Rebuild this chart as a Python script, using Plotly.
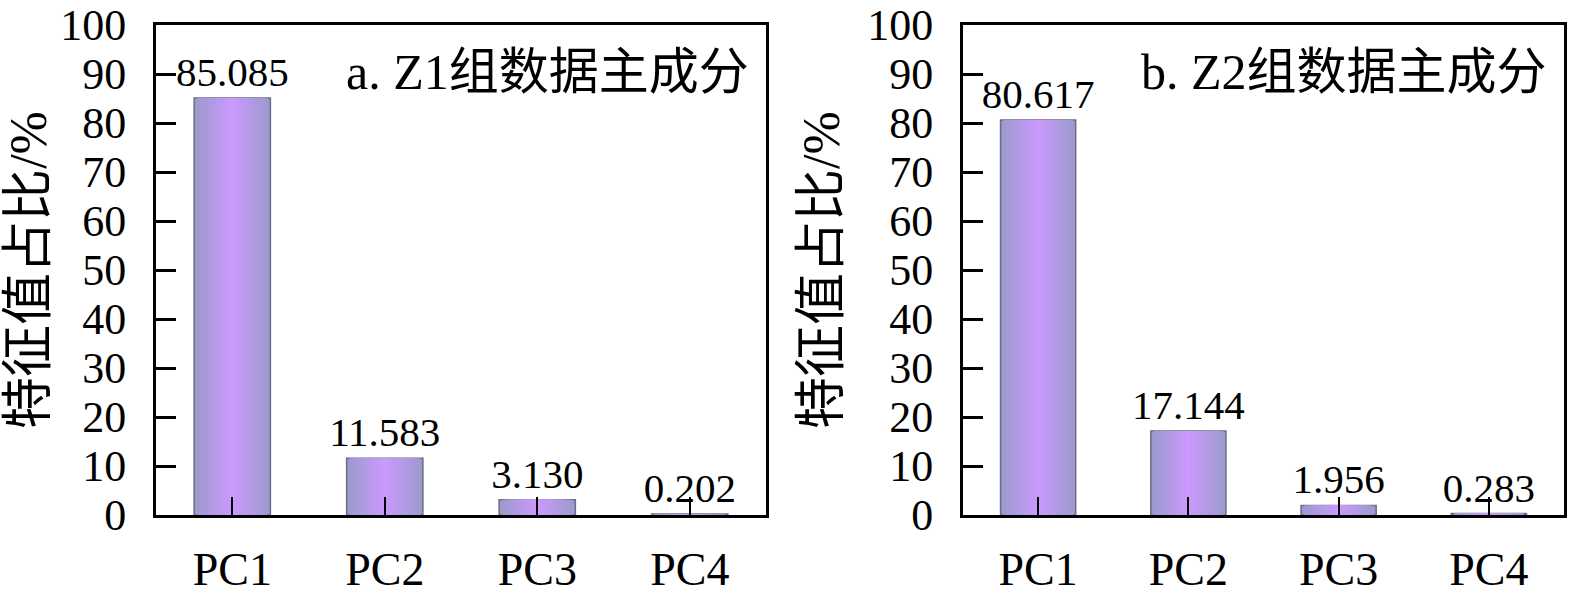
import plotly.graph_objects as go
from plotly.subplots import make_subplots

# 数据
components = ["PC1", "PC2", "PC3", "PC4"]
z1_values = [85.085, 11.583, 3.130, 0.202]
z2_values = [80.617, 17.144, 1.956, 0.283]
z1_labels = ["85.085", "11.583", "3.130", "0.202"]
z2_labels = ["80.617", "17.144", "1.956", "0.283"]
panel_titles = ["a. Z1组数据主成分", "b. Z2组数据主成分"]
y_title = "特征值占比/%"
y_ticks = list(range(0, 101, 10))

serif = "Liberation Serif, Times New Roman, Noto Sans CJK SC"
edge_rgb = (155, 155, 205)
center_rgb = (202, 153, 252)
n_steps = 14
bar_width = 0.5

fig = make_subplots(rows=1, cols=2)


def add_panel(values, labels, col):
    # 用叠加的窄柱模拟水平渐变
    for i in range(n_steps):
        t = i / (n_steps - 1)
        c = tuple(round(e + (m - e) * t) for e, m in zip(edge_rgb, center_rgb))
        w = bar_width * (1 - i / n_steps)
        outer = i == 0
        fig.add_trace(go.Bar(
            x=components,
            y=values,
            width=w,
            marker=dict(color=f"rgb{c}",
                        line=dict(color="#6b6b88" if outer else f"rgb{c}",
                                  width=1.5 if outer else 0)),
            text=labels if outer else None,
            textposition="outside" if outer else "none",
            textfont=dict(family=serif, size=41, color="black"),
            constraintext="none",
            cliponaxis=False,
            showlegend=False,
            hoverinfo="skip" if not outer else None,
        ), row=1, col=col)


add_panel(z1_values, z1_labels, 1)
add_panel(z2_values, z2_labels, 2)

axis_common = dict(showline=True, linecolor="black", linewidth=3, mirror=True,
                   showgrid=False, zeroline=False, automargin=False)

for col in (1, 2):
    fig.update_xaxes(axis_common, ticks="inside", ticklen=18, tickwidth=2,
                     tickcolor="black", ticklabelstandoff=12,
                     tickfont=dict(family=serif, size=46, color="black"),
                     row=1, col=col)
    fig.update_yaxes(axis_common, range=[0, 100], tickvals=y_ticks,
                     ticks="inside", ticklen=20, tickwidth=3, tickcolor="black",
                     ticklabelstandoff=18,
                     tickfont=dict(family=serif, size=44, color="black"),
                     title=dict(text=y_title, standoff=12,
                                font=dict(family=serif, size=52, color="black")),
                     row=1, col=col)

fig.update_layout(
    barmode="overlay",
    width=1575, height=594,
    margin=dict(l=0, r=0, t=0, b=0, autoexpand=False),
    plot_bgcolor="white", paper_bgcolor="white",
    xaxis=dict(domain=[156 / 1575, 766 / 1575]),
    xaxis2=dict(domain=[963 / 1575, 1564 / 1575]),
    yaxis=dict(domain=[79 / 594, 569 / 594]),
    yaxis2=dict(domain=[79 / 594, 569 / 594]),
)

fig.add_annotation(text=panel_titles[0], xref="x domain", yref="y domain",
                   x=0.975, y=0.905, xanchor="right", yanchor="middle",
                   showarrow=False, font=dict(family=serif, size=50, color="black"))
fig.add_annotation(text=panel_titles[1], xref="x2 domain", yref="y2 domain",
                   x=0.975, y=0.905, xanchor="right", yanchor="middle",
                   showarrow=False, font=dict(family=serif, size=50, color="black"))

# 去掉页面默认边距，让图正好铺满窗口
fig.write_html("out.html",
               config={"displayModeBar": False},
               post_script="document.body.style.margin='0';"
                           "document.body.style.overflow='hidden';")
